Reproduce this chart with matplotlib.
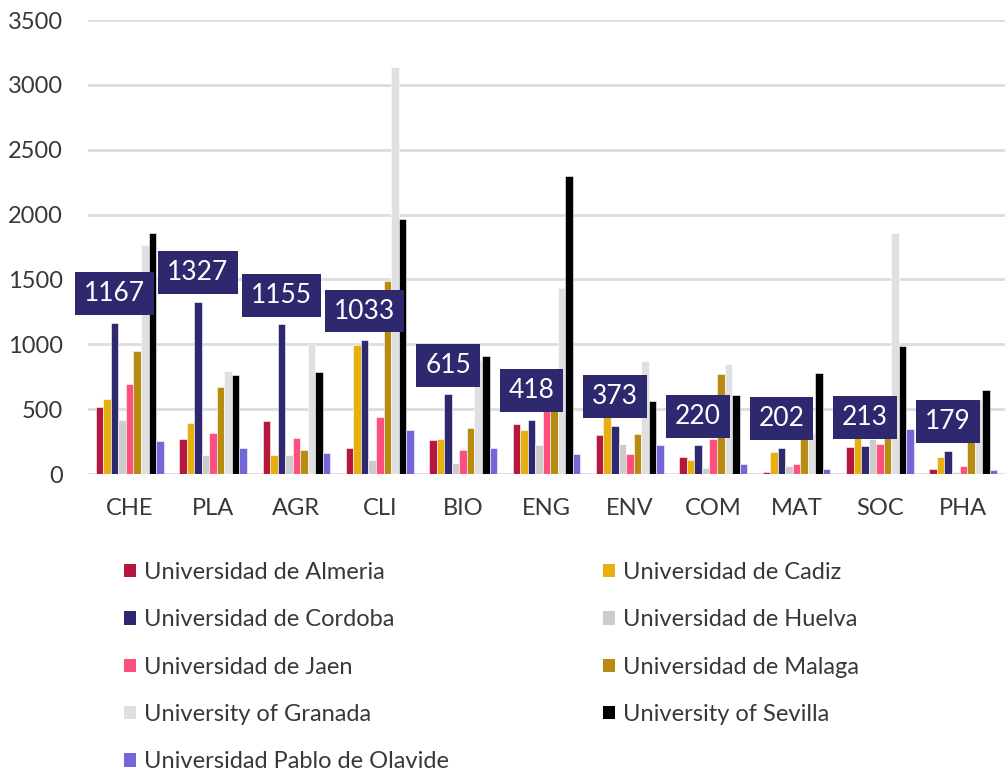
import numpy as np
import matplotlib.pyplot as plt
from matplotlib.patches import Patch

# data
categories = ["CHE", "PLA", "AGR", "CLI", "BIO", "ENG", "ENV", "COM", "MAT", "SOC", "PHA"]
universities = ["Universidad de Almeria", "Universidad de Cadiz", "Universidad de Cordoba",
                "Universidad de Huelva", "Universidad de Jaen", "Universidad de Malaga",
                "University of Granada", "University of Sevilla", "Universidad Pablo de Olavide"]
almeria = [513, 273, 411, 201, 263, 385, 301, 134, 12, 211, 42]
cadiz = [578, 396, 150, 995, 273, 337, 500, 109, 170, 283, 134]
cordoba = [1167, 1327, 1155, 1033, 615, 418, 373, 220, 202, 213, 179]
huelva = [413, 150, 150, 106, 88, 227, 232, 48, 63, 270, 19]
jaen = [693, 313, 278, 439, 183, 560, 155, 267, 81, 234, 63]
malaga = [951, 667, 188, 1486, 357, 620, 306, 774, 267, 330, 300]
granada = [1768, 795, 1002, 3140, 880, 1432, 872, 851, 320, 1855, 570]
sevilla = [1860, 762, 785, 1968, 910, 2300, 562, 611, 777, 989, 647]
olavide = [255, 204, 160, 337, 204, 155, 227, 81, 37, 347, 32]

series = [almeria, cadiz, cordoba, huelva, jaen, malaga, granada, sevilla, olavide]
colors = ["#B5173F", "#E8B00E", "#2E286E", "#CCCCCC", "#FF4F7E",
          "#B88B12", "#E0E0E0", "#000000", "#7366D6"]

plt.rcParams['font.family'] = ['Lato', 'DejaVu Sans']
txt_color = "#383838"

fig = plt.figure(figsize=(10.07, 7.70), dpi=100)
ax = fig.add_axes([0.0874, 0.3844, 0.9106, 0.5896])

x = np.arange(len(categories))
w = 0.0904
for i, vals in enumerate(series):
    ax.bar(x + (i - 4) * w, vals, width=w, color=colors[i],
           edgecolor="white", linewidth=0.4, zorder=3)

# labels over the Cordoba bars
for xi, v in zip(x, cordoba):
    ax.annotate("%d" % v, xy=(xi - 2 * w, v), xytext=(0, 29), textcoords="offset pixels",
                ha="center", va="center", fontsize=19, color="white",
                bbox=dict(boxstyle="square,pad=0.34", fc="#2E286E", ec="none"), zorder=5)

ax.set_xlim(-0.5, len(categories) - 0.5)
ax.set_ylim(0, 3500)
ax.set_yticks(range(0, 3501, 500))
ax.set_xticks(x)
ax.set_xticklabels(categories)
ax.grid(axis="y", color="#DDDDDD", linewidth=2, zorder=0)
ax.set_axisbelow(True)
for s in ax.spines.values():
    s.set_visible(False)
ax.tick_params(axis="both", length=0, labelsize=17, labelcolor=txt_color)
ax.tick_params(axis="y", pad=18)
ax.tick_params(axis="x", pad=17)

# legend, row order as in the reference
order = [0, 2, 4, 6, 8, 1, 3, 5, 7]
handles = [Patch(facecolor=colors[i], edgecolor="none") for i in order]
labels = [universities[i] for i in order]
fig.legend(handles, labels, loc="upper left", bbox_to_anchor=(0.123, 0.270), ncol=2,
           frameon=False, fontsize=17, labelcolor=txt_color, handlelength=0.5,
           handleheight=0.5, handletextpad=0.34, labelspacing=1.115, columnspacing=6.53,
           borderpad=0, borderaxespad=0)

fig.savefig("out.png", dpi=100)
